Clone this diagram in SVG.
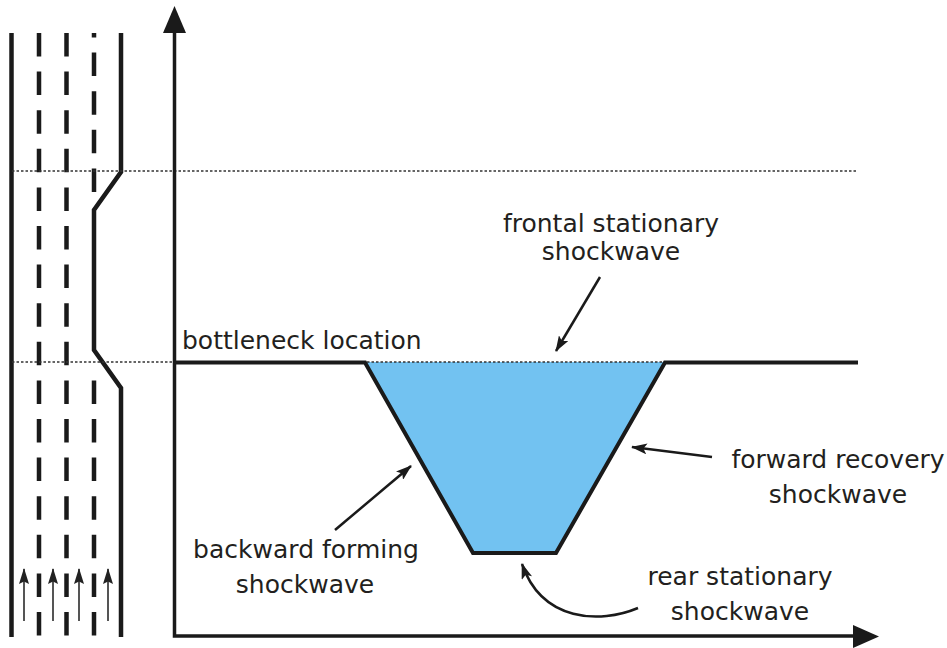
<svg xmlns="http://www.w3.org/2000/svg" width="947" height="648" viewBox="0 0 947 648">
<defs>
<style>
.road{stroke:#1a1a1a;stroke-width:4.5;fill:none}
.lane{stroke:#1a1a1a;stroke-width:4.5;fill:none;stroke-dasharray:23.5 15.1}
.dot{stroke:#333;stroke-width:1.5;fill:none;stroke-dasharray:2.5 2}
.axis{stroke:#1a1a1a;stroke-width:3.5;fill:none}
.car{stroke:#555;stroke-width:2;fill:none}
.lbl{font-family:"DejaVu Sans",Verdana,sans-serif;font-size:25px;fill:#231f20;text-anchor:middle}
.ptr{stroke:#1a1a1a;stroke-width:2.5;fill:none}
</style>
<marker id="ah" viewBox="0 0 16 11" refX="15" refY="5.5" markerWidth="16" markerHeight="11" markerUnits="userSpaceOnUse" orient="auto">
<path d="M0,0 L16,5.5 L0,11 L3.5,5.5 z" fill="#1a1a1a"/>
</marker>
<marker id="carh" viewBox="0 0 16 10" refX="15" refY="5" markerWidth="16" markerHeight="10" markerUnits="userSpaceOnUse" orient="auto">
<path d="M0,0 L16,5 L0,10 L2.5,5 z" fill="#222"/>
</marker>
</defs>
<rect width="947" height="648" fill="#fff"/>

<g id="road">
<line class="road" x1="11.5" y1="33" x2="11.5" y2="637"/>
<line class="lane" x1="39" y1="33" x2="39" y2="637"/>
<line class="lane" x1="66.5" y1="33" x2="66.5" y2="637"/>
<line class="lane" x1="94" y1="33" x2="94" y2="192" style="stroke-dashoffset:-19.6"/>
<line class="lane" x1="94" y1="380.4" x2="94" y2="637"/>
<polyline class="road" points="121,33 121,172 94,210 94,350 121,388 121,637"/>
</g>

<g id="vehicles">
<line class="car" x1="24" y1="621" x2="24" y2="569" marker-end="url(#carh)"/>
<line class="car" x1="53" y1="621" x2="53" y2="569" marker-end="url(#carh)"/>
<line class="car" x1="79" y1="621" x2="79" y2="569" marker-end="url(#carh)"/>
<line class="car" x1="108" y1="621" x2="108" y2="569" marker-end="url(#carh)"/>
</g>

<g id="guides">
<line class="dot" x1="12" y1="171" x2="858" y2="171"/>
<line class="dot" x1="12" y1="362" x2="175" y2="362"/>
</g>

<g id="axes">
<polyline class="axis" points="174.5,22 174.5,636 862,636"/>
<path d="M174.5,6 L186,33 L163,33 z" fill="#1a1a1a"/>
<path d="M879,636.5 L853,625 L853,648 z" fill="#1a1a1a"/>
</g>

<g id="queue">
<path d="M365,362 L473,553 L556,553 L665,362 z" fill="#72C2F1"/>
<line class="dot" x1="367" y1="362" x2="663" y2="362"/>
<polyline points="174.5,362.5 365,362.5 473,553 556,553 665,362.5 858,362.5" fill="none" stroke="#1a1a1a" stroke-width="4" stroke-linejoin="miter"/>
</g>

<g id="labels">
<text class="lbl" x="182" y="349" style="text-anchor:start">bottleneck location</text>
<text class="lbl" x="611" y="232">frontal stationary</text>
<text class="lbl" x="611" y="260">shockwave</text>
<text class="lbl" x="306" y="558">backward forming</text>
<text class="lbl" x="305" y="593">shockwave</text>
<text class="lbl" x="838" y="468">forward recovery</text>
<text class="lbl" x="838" y="503">shockwave</text>
<text class="lbl" x="740" y="585">rear stationary</text>
<text class="lbl" x="740" y="620">shockwave</text>
</g>

<g id="connectors">
<line class="ptr" x1="600" y1="277" x2="556" y2="351" marker-end="url(#ah)"/>
<line class="ptr" x1="335" y1="530" x2="411" y2="466" marker-end="url(#ah)"/>
<line class="ptr" x1="712" y1="457" x2="632" y2="447" marker-end="url(#ah)"/>
<path class="ptr" d="M638,608 C600,624 542,622 522,564" marker-end="url(#ah)"/>
</g>
</svg>
